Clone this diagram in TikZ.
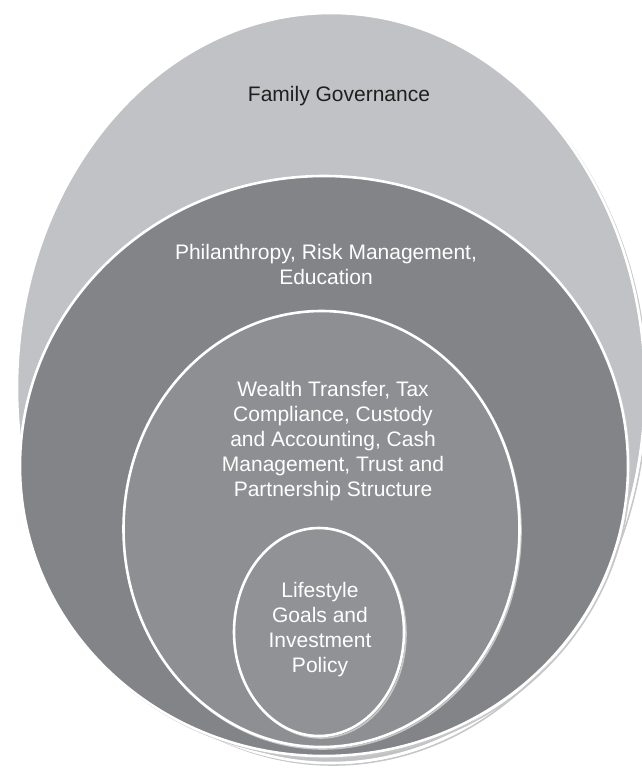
\documentclass[tikz,border=0pt]{standalone}
\usepackage{fontspec}
\setmainfont{Liberation Sans}
\usepackage{tikz}
\usetikzlibrary{calc}

\definecolor{govgray}{HTML}{C1C2C5}
\definecolor{philgray}{HTML}{838488}
\definecolor{wealthgray}{HTML}{8E8F93}
\definecolor{lifegray}{HTML}{919296}

\begin{document}
\begin{tikzpicture}[x=1pt,y=-1pt,
        ring/.style={fill=#1, draw=white, line width=2.6pt},
        ringshadow/.style={draw=black!22, line width=1.6pt},
        lbl/.style={align=center, inner sep=0pt, text=white,
                font=\fontsize{21}{25}\selectfont}]
        \useasboundingbox (0,0) rectangle (642,768);

        % outer ring
        \draw[ringshadow] (333,390) ellipse [x radius=314, y radius=375];
        \draw[ring=govgray] (331,388) ellipse [x radius=314, y radius=375];
        % second ring
        \draw[ringshadow] (326,468) ellipse [x radius=304, y radius=290];
        \draw[ring=philgray] (324,466) ellipse [x radius=304, y radius=290];
        % third ring
        \draw[ringshadow] (323,531) ellipse [x radius=198, y radius=218];
        \draw[ring=wealthgray] (321.5,529) ellipse [x radius=198, y radius=218];
        % core
        \draw[ringshadow] (321,634) ellipse [x radius=85, y radius=104];
        \draw[ring=lifegray] (319,632) ellipse [x radius=85, y radius=104];

        \node[lbl, text=black!88] (gov) at (339,96) {Family Governance};
        \node[lbl] (phil) at (326,264) {Philanthropy, Risk Management,\\Education};
        \node[lbl] (wealth) at (333,441) {Wealth Transfer, Tax\\Compliance, Custody\\and Accounting, Cash\\Management, Trust and\\Partnership Structure};
        \node[lbl] (life) at (320,630) {Lifestyle\\Goals and\\Investment\\Policy};
\end{tikzpicture}
\end{document}
